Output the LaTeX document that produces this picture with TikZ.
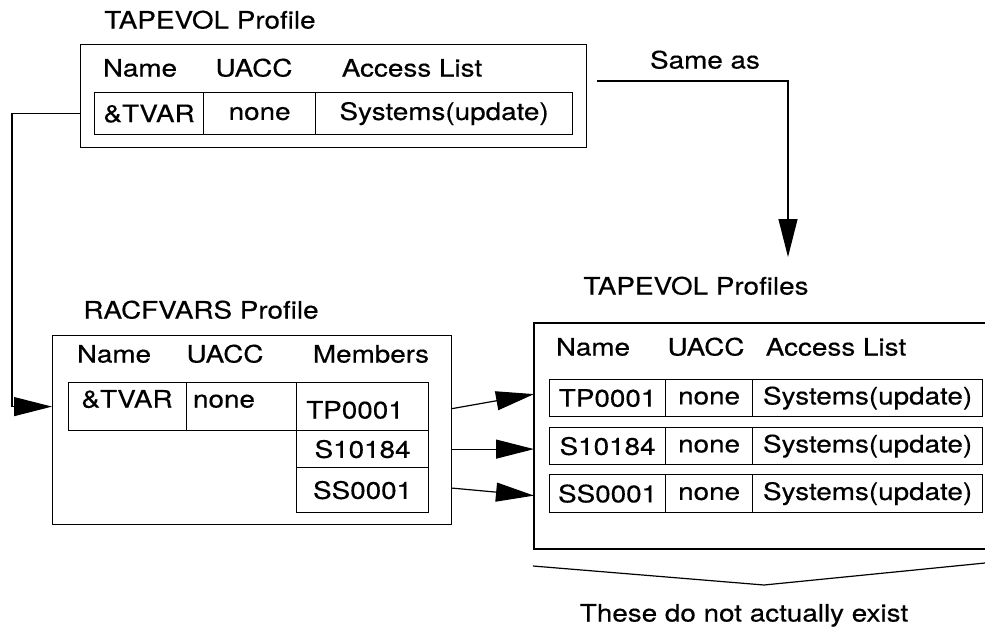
\documentclass[tikz,border=0pt]{standalone}
\usepackage{fontspec}
\setmainfont{TeX Gyre Heros}[FakeStretch=1.16,FakeBold=0.4]
\usetikzlibrary{arrows.meta,calc}

\tikzset{
  txt/.style={inner sep=0pt,text height=17pt,text depth=4pt,font=\fontsize{24}{28}\selectfont},
  box/.style={draw,line width=1.2pt,inner sep=0pt,anchor=north west,font=\fontsize{24}{28}\selectfont},
  big/.style={-{Triangle[length=38pt,width=19pt]}}
}

\begin{document}
\begin{tikzpicture}[x=1pt,y=-1pt,line width=1.2pt]

\useasboundingbox (0,0) rectangle (985,633);

% TAPEVOL profile (top)
\node[txt] (tapeT) at (210,22) {TAPEVOL Profile};
\node[box,minimum width=506pt,minimum height=103pt] (tape) at (80,44) {};
\node[txt] (tapeH1) at (140,70) {Name};
\node[txt] (tapeH2) at (254,70) {UACC};
\node[txt] (tapeH3) at (412,70) {Access List};
\node[box,minimum width=109pt,minimum height=42pt] (tvar) at (94,92) {\&TVAR};
\node[box,minimum width=112pt,minimum height=42pt] (tnone) at (203,92) {none};
\node[box,minimum width=257pt,minimum height=42pt] (tsys) at (315,92) {Systems(update)};

% RACFVARS profile
\node[txt] (racfT) at (201,312) {RACFVARS Profile};
\node[box,minimum width=399pt,minimum height=189pt] (racf) at (52,335) {};
\node[txt] (racfH1) at (114,356) {Name};
\node[txt] (racfH2) at (225,356) {UACC};
\node[txt] (racfH3) at (371,356) {Members};
\node[box,minimum width=118pt,minimum height=48pt] (rtvar) at (68,382) {};
\node[box,minimum width=110pt,minimum height=48pt] (rnone) at (186,382) {};
\node[txt] at (127,401) {\&TVAR};
\node[txt] at (224,401) {none};
\node[box,minimum width=132pt,minimum height=48pt] (m1) at (296,382) {};
\node[txt] at (355,412) {TP0001};
\node[box,minimum width=132pt,minimum height=37pt] (m2) at (296,430) {S10184};
\node[box,minimum width=132pt,minimum height=45pt] (m3) at (296,467) {SS0001};

% TAPEVOL profiles (not real)
\node[txt] (profT) at (696,288) {TAPEVOL Profiles};
\draw (985,323) -| (534,549) -- (985,549);
\coordinate (profW) at (534,436);
\node[txt] (profH1) at (593,349) {Name};
\node[txt] (profH2) at (706,349) {UACC};
\node[txt] (profH3) at (836,349) {Access List};

\node[box,minimum width=116pt,minimum height=37pt] (r1a) at (549,379) {TP0001};
\node[box,minimum width=87pt,minimum height=37pt] (r1b) at (665,379) {none};
\node[box,minimum width=230pt,minimum height=37pt] (r1c) at (752,379) {Systems(update)};
\node[box,minimum width=116pt,minimum height=37pt] (r2a) at (549,427) {S10184};
\node[box,minimum width=87pt,minimum height=37pt] (r2b) at (665,427) {none};
\node[box,minimum width=230pt,minimum height=37pt] (r2c) at (752,427) {Systems(update)};
\node[box,minimum width=116pt,minimum height=38pt] (r3a) at (549,474) {SS0001};
\node[box,minimum width=87pt,minimum height=38pt] (r3b) at (665,474) {none};
\node[box,minimum width=230pt,minimum height=38pt] (r3c) at (752,474) {Systems(update)};

% connectors
\draw[big] (tape.west |- tvar) -- ++(-68,0) |- (racf.west |- rtvar);

\node[txt] (same) at (705,62) {Same as};
\coordinate (sameL) at (597,81);
\coordinate (sameR) at (788,257);
\draw[big] (sameL) -| (sameR);

\draw[big] ($(racf.east |- m1)+(0,2)$) -- ($(profW |- r1a)+(0,-4)$);
\draw[big] (racf.east |- m2) -- (profW |- m2);
\draw[big] ($(racf.east |- m3)+(0,-2)$) -- ($(profW |- r3a)+(0,2)$);

% brace under the profiles
\draw (533,566) -- (764,585) -- (985,563);
\node[txt] (note) at (744,615) {These do not actually exist};

\end{tikzpicture}
\end{document}
